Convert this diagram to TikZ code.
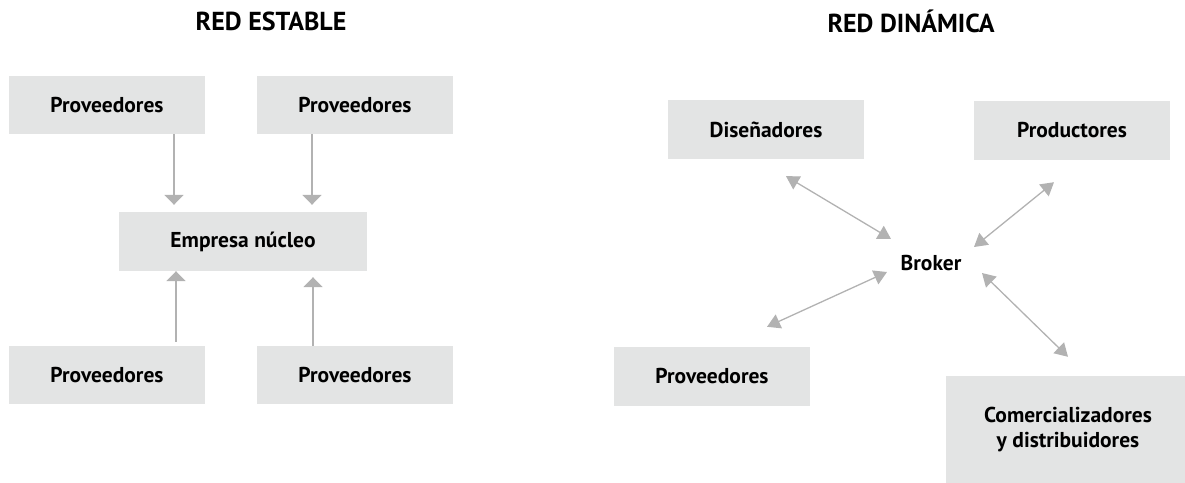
\documentclass[tikz,border=0pt]{standalone}
\usepackage{fontspec}
\setmainfont{PT Sans}
\usetikzlibrary{arrows.meta,calc}
\definecolor{boxgray}{RGB}{227,228,228}
\definecolor{arrgray}{RGB}{178,178,178}
\begin{document}
\begin{tikzpicture}[x=1pt,y=-1pt,
  box/.style={fill=boxgray,draw=none,minimum width=196pt,minimum height=58pt,inner sep=0pt,
    font=\fontsize{21.5}{25}\selectfont\bfseries,align=center},
  ttl/.style={font=\fontsize{26}{30}\selectfont\bfseries,inner sep=0pt},
  est/.style={draw=arrgray,line width=1.8pt,-{Triangle[length=10pt,width=19pt]}},
  dyn/.style={draw=arrgray,line width=1.3pt,{Triangle[length=13pt,width=15pt]}-{Triangle[length=13pt,width=15pt]}}]
\useasboundingbox (0,0) rectangle (1185,482);
% titles
\node[ttl] (t1) at (271,21) {RED ESTABLE};
\node[ttl] (t2) at (911,21) {RED DINÁMICA};
% left
\node[box] (p1) at (107,105) {Proveedores};
\node[box] (p2) at (355,105) {Proveedores};
\node[box,minimum width=248pt,minimum height=59pt] (emp) at (243,241.5) {Empresa núcleo};
\node[box] (p3) at (107,375) {Proveedores};
\node[box] (p4) at (355,375) {Proveedores};
\coordinate (a1) at ($(p1.south)+(67,0)$);
\coordinate (a2) at ($(p2.south)+(-43,0)$);
\coordinate (a3) at ($(p3.north)+(69,-4)$);
\coordinate (a4) at ($(p4.north)+(-42,0)$);
\draw[est,shorten >=7pt] (a1) -- (a1 |- emp.north);
\draw[est,shorten >=7pt] (a2) -- (a2 |- emp.north);
\draw[est] (a3) -- (a3 |- emp.south);
\draw[est,shorten >=6pt] (a4) -- (a4 |- emp.south);
% right
\node[box,minimum height=59pt] (dis) at (766,129.5) {Diseñadores};
\node[box,minimum height=59pt] (prod) at (1072,130.5) {Productores};
\node[box,minimum height=59pt] (prov) at (712,376.5) {Proveedores};
\node[box,minimum width=244pt,minimum height=108pt] (com) at (1068,430) {Comercializadores\\y distribuidores};
\node[font=\fontsize{21.5}{25}\selectfont\bfseries,inner sep=0pt] (brk) at (931,263) {Broker};
\coordinate (d1) at ($(dis.south)+(20,17)$);
\coordinate (d2) at ($(prod.south)+(-18,22)$);
\coordinate (d3) at ($(prov.north)+(55,-20)$);
\coordinate (d4) at ($(com.north)+(0,-19)$);
\draw[dyn] (d1) -- ($(brk)+(-40,-24)$);
\draw[dyn] (d2) -- ($(brk)+(43,-16)$);
\draw[dyn] ($(brk)+(-44,9)$) -- (d3);
\draw[dyn] ($(brk)+(51,10)$) -- (d4);
\end{tikzpicture}
\end{document}
